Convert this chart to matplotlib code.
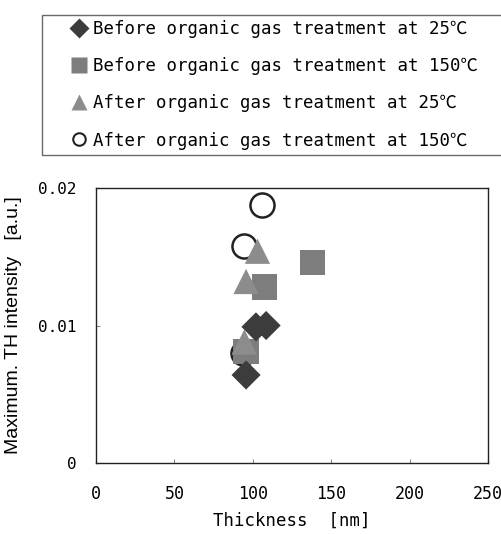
import matplotlib
matplotlib.use("Agg")
import matplotlib.pyplot as plt
from matplotlib.lines import Line2D

# Data
labels = [
    "Before organic gas treatment at 25℃",
    "Before organic gas treatment at 150℃",
    "After organic gas treatment at 25℃",
    "After organic gas treatment at 150℃",
]
before25_x = [102, 108.5, 95.7]
before25_y = [0.0099, 0.0100, 0.0064]
before150_x = [138.3, 107.4, 95.7]
before150_y = [0.0146, 0.0128, 0.0081]
after25_x = [103, 95.7, 94.6]
after25_y = [0.0154, 0.0132, 0.0088]
after150_x = [106, 94.6, 93.5]
after150_y = [0.0188, 0.0158, 0.0080]

xticks = [0, 50, 100, 150, 200, 250]
yticks = [0, 0.01, 0.02]
yticklabels = ["0", "0.01", "0.02"]

mono = ["DejaVu Sans Mono", "Noto Sans CJK JP"]

fig = plt.figure(figsize=(5.02, 5.34), dpi=100)
ax = fig.add_axes([96/502, 71/534, 392/502, 275/534])

ax.scatter(after150_x, after150_y, marker="o", s=300, facecolors="white",
           edgecolors="#222222", linewidths=1.8, zorder=2)
ax.scatter(before150_x, before150_y, marker="s", s=330, color="#7d7d7d",
           edgecolors="none", zorder=3)
ax.scatter(after25_x, after25_y, marker="^", s=330, color="#8c8c8c",
           edgecolors="none", zorder=4)
ax.scatter(before25_x, before25_y, marker="D", s=220, color="#3c3c3c",
           edgecolors="none", zorder=5)

ax.set_xlim(0, 250)
ax.set_ylim(0, 0.02)
ax.set_xticks(xticks)
ax.set_xticklabels([str(v) for v in xticks], fontfamily=mono, fontsize=12)
ax.set_yticks(yticks)
ax.set_yticklabels(yticklabels, fontfamily=mono, fontsize=11.5)
ax.tick_params(axis="x", direction="in", length=3, pad=16, color="#888888")
ax.tick_params(axis="y", direction="in", length=3, pad=14, color="#888888")
for sp in ax.spines.values():
    sp.set_linewidth(1.0)
    sp.set_color("#222222")

ax.set_xlabel("Thickness  [nm]", fontfamily=mono, fontsize=12.5, va="center")
ax.xaxis.set_label_coords(0.5, -(521 - 463) / 275)
ax.yaxis.set_label_coords(-74/392, 0.5)
ax.set_ylabel("Maximum. TH intensity   [a.u.]", fontfamily="Liberation Sans",
              fontsize=14)

handles = [
    Line2D([], [], marker="D", linestyle="none", markersize=10,
           markerfacecolor="#3c3c3c", markeredgecolor="none"),
    Line2D([], [], marker="s", linestyle="none", markersize=12,
           markerfacecolor="#7d7d7d", markeredgecolor="none"),
    Line2D([], [], marker="^", linestyle="none", markersize=12,
           markerfacecolor="#8c8c8c", markeredgecolor="none"),
    Line2D([], [], marker="o", linestyle="none", markersize=9,
           markerfacecolor="white", markeredgecolor="#222222",
           markeredgewidth=1.5),
]
leg = fig.legend(handles, labels, loc="upper left",
                 bbox_to_anchor=(42/502, 1 - 15/534, 470/502, 0.0),
                 mode="expand", prop={"family": mono, "size": 12.5},
                 frameon=True, fancybox=False, handlelength=3.7,
                 handletextpad=-1.05, labelspacing=1.1, borderpad=0.3,
                 borderaxespad=0)
leg.get_frame().set_edgecolor("#444444")
leg.get_frame().set_linewidth(1.0)

fig.savefig("out.png", dpi=100)
